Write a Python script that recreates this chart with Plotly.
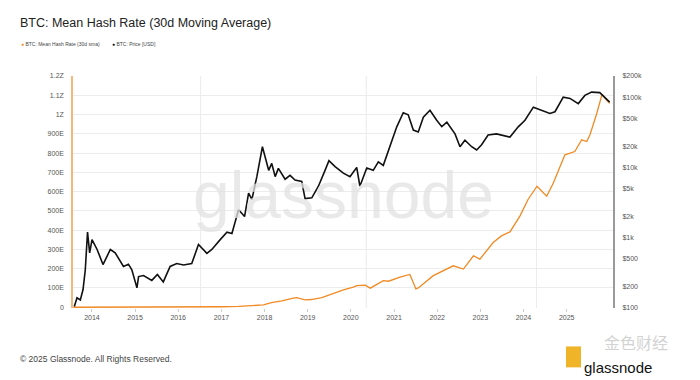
import plotly.graph_objects as go

# ---- data ----
price_dates = ["2013-08-05","2013-08-28","2013-09-25","2013-10-18","2013-11-06","2013-11-25","2013-12-13",
    "2014-01-02","2014-02-14","2014-04-05","2014-06-06","2014-07-17","2014-09-25","2014-11-06","2014-12-05",
    "2015-01-17","2015-01-31","2015-03-14","2015-05-23","2015-07-09","2015-08-28","2015-10-25","2015-12-20",
    "2016-02-15","2016-04-25","2016-06-21","2016-08-31","2016-10-12","2016-12-22",
    "2017-02-17","2017-03-31","2017-05-26","2017-07-16","2017-08-19","2017-09-16","2017-10-28","2017-12-14",
    "2018-01-06","2018-02-05","2018-03-03","2018-04-01","2018-04-28","2018-06-24","2018-08-05","2018-09-16",
    "2018-11-12","2018-12-10","2019-02-05","2019-04-02","2019-05-28","2019-06-30","2019-08-21","2019-10-16",
    "2019-10-30","2019-12-25","2020-02-20","2020-03-18","2020-05-15","2020-07-09","2020-08-21","2020-10-02",
    "2020-11-28","2021-01-24","2021-03-20","2021-05-01","2021-06-13","2021-07-25","2021-09-06","2021-11-01",
    "2021-12-28","2022-02-09","2022-03-24","2022-06-01","2022-07-13","2022-08-24","2022-10-20","2022-12-01",
    "2023-01-12","2023-03-08","2023-05-18","2023-09-09","2023-11-18","2024-01-14","2024-03-25","2024-06-02",
    "2024-08-12","2024-09-24","2024-12-03","2025-01-29","2025-04-09","2025-06-04","2025-07-31","2025-10-08",
    "2025-11-20","2025-12-31"]
price_usd = [105,140,130,183,350,1200,610,
    940,680,415,680,610,390,420,350,
    194,280,290,247,300,235,390,430,
    410,430,800,600,680,940,
    1200,1150,2500,2000,4300,3500,7400,19700,
    14000,9100,11400,7400,9700,6800,7700,6600,
    6300,3600,3700,5400,9100,12500,10300,8700,
    8300,7400,10000,5400,9800,9100,12000,10700,
    19700,37800,60000,56000,34000,32000,52000,65000,
    47000,38000,44000,30000,19700,24400,19700,17700,
    21000,29000,30000,27000,37800,47000,72000,65000,
    58700,62000,100000,96000,81000,106000,118000,116000,
    100000,85000]

hash_dates = ["2013-07-28","2014-01-01","2014-07-01","2015-01-01","2015-07-01","2016-01-01","2016-07-01",
    "2017-01-01","2017-05-26","2017-09-01","2017-12-23","2018-03-01","2018-05-27","2018-09-01","2018-10-01",
    "2018-12-10","2019-02-01","2019-05-01","2019-08-21","2019-10-30","2020-01-23","2020-02-20","2020-05-01",
    "2020-06-14","2020-10-02","2020-11-15","2021-02-21","2021-05-15","2021-07-05","2021-07-25","2021-11-29",
    "2022-03-24","2022-05-17","2022-08-11","2022-11-04","2022-12-29","2023-04-20","2023-06-29","2023-09-09",
    "2023-12-02","2024-02-09","2024-04-25","2024-07-16","2024-09-10","2024-11-08","2024-12-17","2025-03-11",
    "2025-05-08","2025-06-20","2025-07-17","2025-09-10","2025-10-27","2025-12-04","2025-12-31"]
hash_eh = [0.0003,0.01,0.12,0.3,0.4,0.8,1.4,
    2.6,4,7,12,24,33,47,50,
    38,40,50,75,90,104,112,114,
    99,138,135,156,170,95,100,164,
    198,215,198,267,250,336,370,391,
    473,559,628,576,645,731,791,808,
    869,860,895,1000,1105,1075,1058]

halving_dates = ["2016-07-09", "2020-05-11", "2024-04-20"]

left_tickvals = [0,100,200,300,400,500,600,700,800,900,1000,1100,1200]
left_ticktext = ["0","100E","200E","300E","400E","500E","600E","700E","800E","900E","1Z","1.1Z","1.2Z"]
right_tickvals = [100,200,500,1000,2000,5000,10000,20000,50000,100000,200000]
right_ticktext = ["$100","$200","$500","$1k","$2k","$5k","$10k","$20k","$50k","$100k","$200k"]
year_ticks = [f"{y}-01-01" for y in range(2014, 2026)]
year_labels = [str(y) for y in range(2014, 2026)]

ORANGE = "#f08a24"
FONT = "Liberation Sans, Arial, sans-serif"

# page body has an 8px default margin; plot area lands at x 73..613, y 76..308.5
L, R, T, B = 65, 95, 68, 79.5
PW, PH = 700 - L - R, 380 - T - B
def px(X):
    return (X - 8 - L) / PW
def py(Y):
    return (380 - B + 8 - Y) / PH

fig = go.Figure()
fig.add_trace(go.Scatter(x=hash_dates, y=hash_eh, mode="lines", name="BTC: Mean Hash Rate (30d sma)",
                         line=dict(color=ORANGE, width=1.3), yaxis="y"))
fig.add_trace(go.Scatter(x=price_dates, y=price_usd, mode="lines", name="BTC: Price [USD]",
                         line=dict(color="#111111", width=1.6), yaxis="y2"))

shapes = [dict(type="line", xref="x", yref="paper", x0=d, x1=d, y0=0, y1=1,
               line=dict(color="#ebebeb", width=1), layer="below") for d in halving_dates]
shapes.append(dict(type="rect", xref="paper", yref="paper", x0=px(566), x1=px(581), y0=py(368), y1=py(347),
                   fillcolor="#f0b429", line=dict(width=0)))

fig.update_layout(
    width=700, height=380,
    margin=dict(l=L, r=R, t=T, b=B),
    paper_bgcolor="white", plot_bgcolor="white",
    showlegend=False,
    font=dict(family=FONT, color="#555"),
    title=dict(text="BTC: Mean Hash Rate (30d Moving Average)", x=12/700, xanchor="left",
               y=1 - 15/380, yanchor="middle",
               font=dict(size=12.5, color="#222", family=FONT)),
    xaxis=dict(type="date", range=["2013-07-25", "2026-01-28"], tickmode="array",
               tickvals=year_ticks, ticktext=year_labels, showgrid=False, ticks="outside", ticklen=3,
               tickcolor="#cccccc", tickfont=dict(size=7, color="#555"), showline=False, zeroline=False),
    yaxis=dict(range=[-4, 1200], tickmode="array", tickvals=left_tickvals, ticktext=left_ticktext,
               showgrid=True, gridcolor="#ececec", gridwidth=1, zeroline=False,
               showline=True, linecolor="#f5b77c", linewidth=1.5,
               tickfont=dict(size=7, color="#555"), ticks="", ticklabelstandoff=6),
    yaxis2=dict(type="log", range=[2, 5.30103], overlaying="y", side="right", tickmode="array",
                tickvals=right_tickvals, ticktext=right_ticktext, showgrid=False, zeroline=False,
                showline=True, linecolor="#9a9a9a", linewidth=2,
                tickfont=dict(size=7, color="#555"), ticks="", ticklabelstandoff=6),
    shapes=shapes,
    annotations=[
        dict(text="glassnode", xref="paper", yref="paper", x=px(343), y=py(195), showarrow=False,
             font=dict(size=66, color="rgba(225,225,225,0.75)", family=FONT)),
        dict(text=f"<span style='color:{ORANGE}'>●</span> BTC: Mean Hash Rate (30d sma)", xref="paper", yref="paper",
             x=px(19), y=py(44), xanchor="left", yanchor="middle", showarrow=False,
             font=dict(size=5, color="#444", family=FONT)),
        dict(text="<span style='color:#111'>●</span> BTC: Price [USD]", xref="paper", yref="paper",
             x=px(110), y=py(44), xanchor="left", yanchor="middle", showarrow=False,
             font=dict(size=5, color="#444", family=FONT)),
        dict(text="© 2025 Glassnode. All Rights Reserved.", xref="paper", yref="paper",
             x=px(18), y=py(360), xanchor="left", yanchor="middle", showarrow=False,
             font=dict(size=8.5, color="#444", family=FONT)),
        dict(text="glassnode", xref="paper", yref="paper", x=px(582), y=py(368), xanchor="left", yanchor="middle",
             showarrow=False, font=dict(size=15, color="#111", family=FONT)),
        dict(text="金色财经", xref="paper", yref="paper", x=px(602), y=py(343), xanchor="left", yanchor="middle",
             showarrow=False, font=dict(size=16, color="rgba(190,190,190,0.7)", family="Noto Sans CJK SC")),
    ],
)

fig.write_html("out.html")
